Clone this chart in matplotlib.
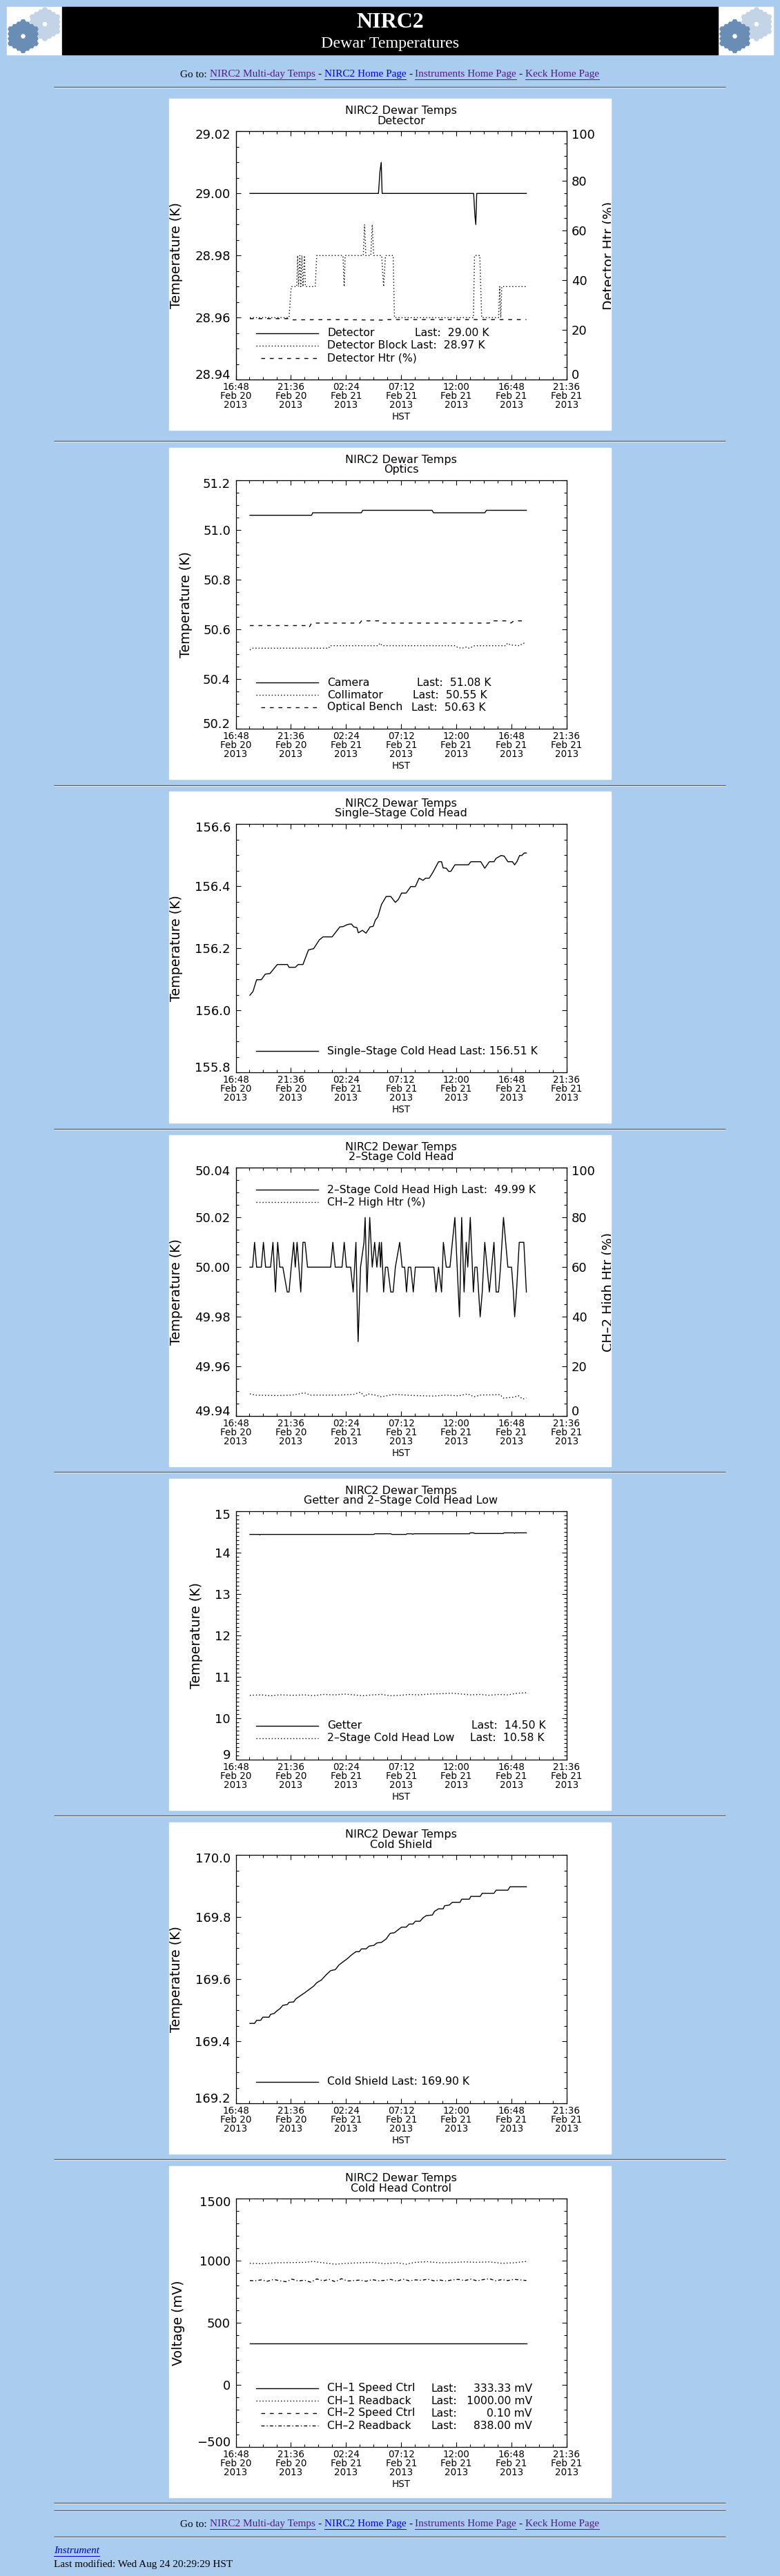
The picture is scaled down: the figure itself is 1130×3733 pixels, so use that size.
import numpy as np
import matplotlib
matplotlib.use("Agg")
import matplotlib.pyplot as plt
from matplotlib.patches import Rectangle, RegularPolygon
from matplotlib.ticker import MultipleLocator
from matplotlib.transforms import Bbox, TransformedBbox

W, H, DPI = 1130, 3733, 100
PT = 72.0 / DPI          # points per screen pixel

BG = "#AACCEE"
VISITED = "#551A8B"
LINK = "#0000EE"
SERIF = "Liberation Serif"
plt.rcParams["font.family"] = "DejaVu Sans"

# time axis: hours after 16:48 HST, Feb 20 2013
time_ticks = [0, 4.8, 9.6, 14.4, 19.2, 24.0, 28.8]
time_labels = ["16:48\nFeb 20\n2013", "21:36\nFeb 20\n2013", "02:24\nFeb 21\n2013",
               "07:12\nFeb 21\n2013", "12:00\nFeb 21\n2013", "16:48\nFeb 21\n2013",
               "21:36\nFeb 21\n2013"]
pct_ticks = [0, 20, 40, 60, 80, 100]

# ---- Detector ----
det_t = [1.23, 12.42, 12.55, 12.66, 12.74, 12.82, 20.70, 20.81, 20.89, 20.97, 25.29]
det_k = [29.000, 29.000, 29.007, 29.010, 29.000, 29.000, 29.000, 28.993, 28.990, 29.000, 29.000]
block_t = [1.23, 4.64, 4.83, 5.31, 5.39, 5.47, 5.58, 5.66, 5.76, 5.85, 5.98, 6.06, 6.20,
           6.92, 7.05, 9.33, 9.44, 9.52, 11.10, 11.21, 11.32, 11.75, 11.88, 12.00, 12.70,
           12.87, 13.03, 13.70, 13.81, 20.68, 20.78, 21.24, 21.40, 22.87, 22.97, 23.06,
           23.15, 23.28, 25.29]
block_k = [28.96, 28.96, 28.97, 28.97, 28.98, 28.97, 28.98, 28.97, 28.98, 28.97, 28.98,
           28.97, 28.97, 28.97, 28.98, 28.98, 28.97, 28.98, 28.98, 28.99, 28.98, 28.98,
           28.99, 28.98, 28.98, 28.97, 28.98, 28.98, 28.96, 28.96, 28.98, 28.98, 28.96,
           28.96, 28.97, 28.96, 28.97, 28.97, 28.97]
dhtr_t = [1.23, 4.60, 4.75, 9.00, 12.80, 13.00, 20.00, 25.29]
dhtr_pct = [24.6, 24.6, 24.1, 24.2, 24.0, 24.2, 24.2, 24.2]

# ---- Optics ----
camera_t = [1.23, 6.60, 6.70, 10.93, 11.05, 17.08, 17.22, 21.67, 21.82, 25.29]
camera_k = [51.06, 51.06, 51.07, 51.07, 51.08, 51.08, 51.07, 51.07, 51.08, 51.08]
coll_t = [1.23, 1.50, 8.10, 8.20, 12.40, 12.55, 12.75, 19.12, 19.30, 19.70, 20.10, 20.30,
          20.80, 23.50, 23.65, 23.90, 24.70, 25.00, 25.29]
coll_k = [50.518, 50.525, 50.525, 50.535, 50.535, 50.545, 50.535, 50.535, 50.528, 50.525,
          50.530, 50.525, 50.535, 50.535, 50.545, 50.538, 50.535, 50.545, 50.545]
bench_t = [1.23, 6.10, 6.38, 6.55, 6.65, 10.80, 10.95, 12.60, 12.75, 22.07, 22.20, 23.70,
           23.95, 24.20, 25.10]
bench_k = [50.616, 50.616, 50.608, 50.622, 50.626, 50.626, 50.635, 50.635, 50.626, 50.626,
           50.635, 50.635, 50.626, 50.635, 50.635]

# ---- Single-stage cold head ----
ss_t = [1.23, 1.50, 1.82, 2.23, 2.57, 2.98, 3.62, 4.50, 4.64, 5.18, 5.44, 5.85, 6.33, 6.78,
        7.27, 7.59, 8.39, 9.06, 9.33, 9.68, 9.87, 10.08, 10.27, 10.54, 10.67, 11.02, 11.34,
        11.69, 11.96, 12.15, 12.36, 12.68, 13.09, 13.49, 13.89, 14.16, 14.43, 14.83, 15.23,
        15.63, 15.96, 16.30, 16.52, 16.84, 17.19, 17.65, 17.91, 18.05, 18.32, 18.53, 18.72,
        19.07, 20.25, 20.46, 21.32, 21.67, 22.07, 22.47, 22.66, 23.09, 23.36, 23.68, 24.08,
        24.27, 24.48, 24.70, 24.89, 25.10, 25.29]
ss_k = [156.049, 156.061, 156.099, 156.099, 156.117, 156.119, 156.148, 156.148, 156.139,
        156.139, 156.148, 156.148, 156.195, 156.199, 156.227, 156.237, 156.237, 156.269,
        156.270, 156.276, 156.278, 156.278, 156.269, 156.267, 156.250, 156.258, 156.249,
        156.269, 156.271, 156.291, 156.301, 156.341, 156.367, 156.367, 156.348, 156.358,
        156.378, 156.378, 156.399, 156.399, 156.426, 156.419, 156.426, 156.426, 156.447,
        156.479, 156.479, 156.459, 156.458, 156.448, 156.448, 156.469, 156.469, 156.479,
        156.479, 156.458, 156.479, 156.479, 156.490, 156.499, 156.497, 156.479, 156.479,
        156.469, 156.480, 156.499, 156.499, 156.507, 156.507]

# ---- 2-stage cold head (high) ----
hi_t = [1.23, 1.47, 1.64, 1.82, 2.23, 2.41, 2.60, 3.03, 3.24, 3.46, 3.65, 3.83, 4.10, 4.48,
        4.64, 4.83, 5.04, 5.18, 5.34, 5.66, 5.85, 6.03, 6.25, 8.26, 8.45, 8.66, 9.25, 9.44,
        9.63, 10.00, 10.22, 10.46, 10.59, 10.65, 10.86, 11.16, 11.26, 11.42, 11.66, 11.88,
        12.09, 12.28, 12.50, 12.60, 12.68, 12.87, 13.03, 13.22, 13.49, 13.70, 13.89, 14.27,
        14.48, 14.70, 14.86, 15.02, 15.23, 15.45, 15.63, 17.24, 17.43, 17.65, 17.91, 18.07,
        18.32, 18.64, 18.85, 19.07, 19.47, 19.66, 19.87, 20.06, 20.19, 20.41, 20.68, 20.81,
        21.00, 21.27, 21.45, 21.67, 22.07, 22.47, 22.66, 22.87, 23.04, 23.30, 23.68, 24.00,
        24.16, 24.27, 24.43, 24.67, 25.07, 25.29]
hi_k = [50.00, 50.00, 50.01, 50.00, 50.00, 50.01, 50.00, 50.00, 50.01, 49.99, 50.01, 50.00,
        50.00, 49.99, 49.99, 50.00, 50.01, 50.00, 50.01, 49.99, 50.01, 50.01, 50.00, 50.00,
        50.01, 50.00, 50.00, 50.01, 50.00, 50.00, 49.99, 50.01, 49.98, 49.97, 50.00, 50.01,
        50.02, 49.99, 50.02, 50.00, 50.01, 50.00, 50.01, 50.00, 50.01, 49.99, 50.00, 50.00,
        49.99, 49.99, 50.00, 50.01, 50.00, 50.00, 49.99, 50.00, 50.00, 49.99, 50.00, 50.00,
        49.99, 50.00, 49.99, 50.01, 50.00, 50.00, 50.01, 50.02, 49.98, 50.02, 49.99, 50.01,
        50.00, 50.02, 49.99, 50.00, 50.00, 49.98, 49.99, 50.01, 49.99, 50.01, 49.99, 49.99,
        50.00, 50.02, 50.00, 50.00, 49.99, 49.98, 49.99, 50.01, 50.01, 49.99]
hhtr_t = [1.23, 1.69, 3.57, 4.91, 5.98, 6.52, 8.93, 10.27, 10.86, 11.21, 11.48, 12.15,
          12.68, 13.76, 15.63, 17.24, 18.32, 19.39, 20.19, 20.73, 21.27, 23.01, 23.28,
          24.08, 24.62, 24.97, 25.29]
hhtr_pct = [9.0, 8.5, 8.3, 8.5, 9.4, 8.5, 8.5, 8.8, 9.7, 7.9, 9.0, 8.5, 7.8, 8.8, 8.3, 8.1,
            8.5, 8.2, 9.0, 7.8, 8.5, 8.7, 7.3, 7.6, 8.2, 6.9, 7.4]

# ---- Getter and 2-stage cold head low ----
getter_t = [1.23, 2.05, 2.10, 2.15, 12.01, 12.10, 13.49, 13.60, 14.83, 14.90, 15.30, 15.40,
            15.50, 20.33, 20.40, 20.70, 20.78, 23.28, 23.35, 24.20, 24.25, 24.30, 25.29]
getter_k = [14.445, 14.445, 14.435, 14.445, 14.445, 14.461, 14.461, 14.445, 14.445, 14.461,
            14.461, 14.450, 14.461, 14.461, 14.483, 14.483, 14.467, 14.467, 14.483, 14.483,
            14.472, 14.483, 14.483]
low_t = [1.23, 2.23, 3.03, 3.83, 4.91, 5.98, 6.78, 7.59, 8.66, 9.47, 10.27, 11.08, 11.88,
         12.68, 13.49, 14.29, 15.10, 15.90, 16.97, 18.05, 18.85, 19.66, 20.46, 21.27, 22.07,
         22.87, 23.68, 24.48, 25.29]
low_k = [10.56, 10.57, 10.55, 10.57, 10.56, 10.57, 10.55, 10.58, 10.57, 10.59, 10.57, 10.55,
         10.57, 10.58, 10.55, 10.56, 10.58, 10.57, 10.59, 10.60, 10.61, 10.59, 10.57, 10.58,
         10.56, 10.58, 10.57, 10.61, 10.62]

# ---- Cold shield ----
cs_t = [1.23, 1.64, 1.82, 2.17, 2.36, 2.90, 3.03, 3.35, 3.57, 3.83, 4.10, 4.50, 4.64, 5.04,
        5.23, 5.58, 5.98, 6.38, 6.78, 7.05, 7.46, 7.91, 8.26, 8.66, 8.98, 9.33, 9.73, 10.06,
        10.46, 10.75, 10.94, 11.34, 11.61, 12.01, 12.28, 12.68, 13.09, 13.44, 13.81, 14.08,
        14.43, 14.83, 15.10, 15.42, 15.63, 16.04, 16.30, 16.57, 17.11, 17.30, 17.65, 18.05,
        18.18, 18.58, 18.85, 19.52, 19.66, 20.33, 20.46, 21.27, 21.45, 22.47, 22.66, 23.68,
        23.87, 25.29]
cs_k = [169.458, 169.458, 169.468, 169.468, 169.478, 169.478, 169.487, 169.490, 169.498,
        169.505, 169.516, 169.519, 169.526, 169.527, 169.537, 169.546, 169.556, 169.567,
        169.578, 169.589, 169.598, 169.616, 169.628, 169.631, 169.646, 169.656, 169.667,
        169.678, 169.689, 169.689, 169.698, 169.698, 169.707, 169.709, 169.717, 169.719,
        169.730, 169.748, 169.750, 169.758, 169.768, 169.768, 169.778, 169.778, 169.787,
        169.787, 169.798, 169.805, 169.807, 169.819, 169.827, 169.827, 169.837, 169.839,
        169.848, 169.848, 169.858, 169.858, 169.867, 169.867, 169.877, 169.877, 169.887,
        169.887, 169.898, 169.898]

# ---- Cold head control ----
ch1spd_t = [1.23, 25.29]
ch1spd_mv = [333.33, 333.33]
ch1rb_t = [1.23, 2.23, 3.57, 4.91, 5.98, 6.78, 7.59, 8.66, 9.73, 10.81, 11.88, 12.95, 14.02,
           14.83, 15.63, 16.71, 17.78, 18.85, 19.92, 21.00, 22.07, 23.14, 24.22, 25.29]
ch1rb_mv = [980.5, 976.8, 984.2, 986.1, 988.0, 995.4, 984.2, 973.1, 980.5, 984.2, 988.0,
            976.8, 984.2, 973.1, 988.0, 993.5, 984.2, 986.1, 991.7, 988.0, 991.7, 980.5,
            984.2, 995.4]
ch2rb_t = [1.23, 1.69, 2.23, 2.76, 3.30, 3.83, 4.37, 4.91, 5.44, 5.98, 6.52, 7.05, 7.59,
           8.13, 8.66, 9.20, 9.73, 10.27, 10.81, 11.34, 11.88, 12.42, 12.95, 13.49, 14.02,
           14.56, 15.10, 15.63, 16.17, 16.71, 17.24, 17.78, 18.32, 18.85, 19.39, 19.92,
           20.46, 21.00, 21.53, 22.07, 22.61, 23.14, 23.68, 24.22, 24.75, 25.29]
ch2rb_mv = [841.4, 839.5, 846.9, 835.8, 850.6, 839.5, 832.1, 852.5, 837.7, 845.1, 828.4,
            854.4, 839.5, 850.6, 832.1, 856.2, 837.7, 841.4, 845.1, 835.8, 848.8, 839.5,
            843.2, 850.6, 835.8, 852.5, 839.5, 846.9, 843.2, 852.5, 839.5, 845.1, 837.7,
            846.9, 850.6, 841.4, 852.5, 839.5, 848.8, 856.2, 839.5, 848.8, 841.4, 850.6,
            846.9, 841.4]

LW = 1.0
DOT = (0, (1, 2.2))
DASH = (0, (4, 5))
DASHDOT = (0, (3.5, 2.2, 1, 2.2))

TITLE = 16 * PT
LEG = 15.6 * PT
YTICK = 18 * PT
XTICK = 13.5 * PT
YLAB = 19 * PT
HTML = 15.3 * PT

fig = plt.figure(figsize=(W / DPI, H / DPI), dpi=DPI, facecolor=BG)
page = fig.add_axes([0, 0, 1, 1])
page.set_xlim(0, W)
page.set_ylim(H, 0)
page.axis("off")
renderer = fig.canvas.get_renderer()


def width_of(s, **kw):
    t = page.text(0, 0, s, **kw)
    w = t.get_window_extent(renderer).width
    t.remove()
    return w


def hr(y):
    page.plot([78, 1051], [y, y], color="#5f5f5f", lw=1.4 * PT, solid_capstyle="butt")
    page.plot([78, 1051], [y + 1.3, y + 1.3], color="#e6e6e6", lw=1.0 * PT, solid_capstyle="butt")


def keck_logo(x0):
    page.add_patch(Rectangle((x0, 10), 79, 69, color="white", zorder=1))
    box = Rectangle((x0, 10), 79, 69, transform=page.transData)
    s = 4.0
    for cx, cy, col in [(x0 + 55, 35, "#c4d4e7"), (x0 + 23.5, 52.5, "#6a8db6")]:
        for q in range(-3, 4):
            for r in range(-3, 4):
                ring = max(abs(q), abs(r), abs(q + r))
                if ring == 0 or ring > 3:
                    continue
                hx = cx + 1.5 * s * q
                hy = cy + np.sqrt(3) * s * (r + q / 2)
                hp = RegularPolygon((hx, hy), 6, radius=s * 0.9, orientation=np.pi / 6,
                                    color=col, zorder=2)
                page.add_patch(hp)
                hp.set_clip_path(box)


goto_parts = [("Go to:", "black", False), ("NIRC2 Multi-day Temps", VISITED, True),
              ("-", "black", False), ("NIRC2 Home Page", LINK, True),
              ("-", "black", False), ("Instruments Home Page", VISITED, True),
              ("-", "black", False), ("Keck Home Page", VISITED, True)]


def goto(y):
    kw = dict(fontsize=HTML, family=SERIF)
    space = width_of("a a", **kw) - width_of("aa", **kw)
    widths = [width_of(s, **kw) for s, _, _ in goto_parts]
    total = sum(widths) + space * (len(widths) - 1)
    x = 564.5 - total / 2
    for (s, col, ul), w in zip(goto_parts, widths):
        page.text(x, y, s, color=col, ha="left", va="center", **kw)
        if ul:
            page.plot([x, x + w], [y + 7, y + 7], color=col, lw=1.0 * PT)
        x += w + space


# header
keck_logo(10)
keck_logo(1041)
page.add_patch(Rectangle((90, 10), 950, 69, color="black", zorder=1))
page.text(565, 32, "NIRC2", color="white", fontsize=32 * PT, fontweight="bold",
          family=SERIF, ha="center", va="center")
page.text(565, 63, "Dewar Temperatures", color="white", fontsize=24 * PT,
          family=SERIF, ha="center", va="center")
goto(108)
for y in [126, 639, 1137.5, 1635.5, 2133, 2631, 3129, 3627, 3638, 3676]:
    hr(y)
goto(3658)
page.text(78, 3697, "Instrument", color=LINK, style="italic", fontsize=HTML,
          family=SERIF, ha="left", va="center")
page.plot([78, 78 + width_of("Instrument", style="italic", fontsize=HTML, family=SERIF)],
          [3704, 3704], color=LINK, lw=1.0 * PT)
page.text(78, 3716, "Last modified: Wed Aug 24 20:29:29 HST", color="black",
          fontsize=HTML, family=SERIF, ha="left", va="center")


def tick_labels(ax, ticks, fmt, side):
    n = len(ticks)
    for i, v in enumerate(ticks):
        dy = 6 if i == 0 else (-6 if i == n - 1 else -1.4)
        if side == "left":
            ax.annotate(fmt(v), xy=(0, v), xycoords=("axes fraction", "data"),
                        xytext=(-7.5, dy), textcoords="offset pixels", ha="right",
                        va="center", fontsize=YTICK, annotation_clip=False)
        else:
            ax.annotate(fmt(v), xy=(1, v), xycoords=("axes fraction", "data"),
                        xytext=(7, dy), textcoords="offset pixels", ha="left",
                        va="center", fontsize=YTICK, annotation_clip=False)


def style_ticks(a):
    a.tick_params(which="both", direction="in", width=0.8)
    a.tick_params(which="major", length=7 * PT)
    a.tick_params(which="minor", length=4 * PT)


def panel(top, title, ylim, ymajor, yminor, fmt, ylabel, ylabel_x, right=None):
    page.add_patch(Rectangle((245, top), 640, 480, color="white", zorder=1))
    page.text(581, top + 17.7, "NIRC2 Dewar Temps", ha="center", va="center", fontsize=TITLE)
    page.text(581, top + 32, title, ha="center", va="center", fontsize=TITLE)
    ax = fig.add_axes([341.5 / W, 1 - (top + 407.3) / H, 479.5 / W, 360 / H])
    ax.set_facecolor("white")
    tw = None
    if right is not None:
        tw = ax.twinx()
    ax.set_xlim(0, 28.8)
    ax.set_xticks(time_ticks)
    ax.set_xticklabels(time_labels, fontsize=XTICK, linespacing=0.9)
    ax.xaxis.set_minor_locator(MultipleLocator(1.2))
    ax.set_ylim(*ylim)
    yt = list(np.arange(ylim[0], ylim[1] + ymajor / 2, ymajor))
    ax.set_yticks(yt)
    ax.yaxis.set_minor_locator(MultipleLocator(yminor))
    style_ticks(ax)
    ax.tick_params(which="both", top=True, right=(tw is None), labelleft=False)
    ax.tick_params(axis="x", pad=3.5 * PT)
    for sp in ax.spines.values():
        sp.set_linewidth(0.9)
    tick_labels(ax, yt, fmt, "left")
    ax.set_xlabel("HST", fontsize=XTICK, va="center")
    ax.xaxis.set_label_coords(0.5, -(461 - 407.3) / 360)
    ax.set_ylabel(ylabel, fontsize=YLAB, va="center", ha="center")
    ax.yaxis.set_label_coords((ylabel_x - 341.5) / 479.5, 0.5)
    if tw is not None:
        tw.set_ylim(0, 100)
        tw.set_yticks(pct_ticks)
        tw.yaxis.set_minor_locator(MultipleLocator(5))
        style_ticks(tw)
        tw.tick_params(which="both", labelright=False)
        tick_labels(tw, pct_ticks, lambda v: "%d" % v, "right")
        lab = page.text(881.5, top + 227.3, right, rotation=90, ha="center", va="center",
                        fontsize=YLAB, clip_on=True)
        lab.set_clip_box(TransformedBbox(Bbox([[245 / W, 1 - (top + 480) / H],
                                               [885 / W, 1 - top / H]]), fig.transFigure))
    return ax, tw


def legend(ax, rows):
    for y_img, ls, pieces in rows:
        yf = (407.3 - y_img) / 360
        x_start = 0.0615 if ls in ("-", DOT) else 0.076
        ax.plot([x_start, 0.249], [yf, yf], transform=ax.transAxes, color="k", lw=LW,
                ls=ls, clip_on=False)
        for x_img, s, ha in pieces:
            ax.text((x_img - 96.5) / 479.5, yf, s, transform=ax.transAxes, ha=ha,
                    va="center", fontsize=LEG)


f2 = lambda v: "%.2f" % v
f1 = lambda v: "%.1f" % v
f0 = lambda v: ("%d" % round(v)).replace("-", "\u2212")

# 1 Detector
ax, tw = panel(143, "Detector", (28.94, 29.02), 0.02, 0.005, f2, "Temperature (K)", 255.8,
               right="Detector Htr (%)")
ax.plot(det_t, det_k, color="k", lw=LW)
ax.plot(block_t, block_k, color="k", lw=LW, ls=DOT)
tw.plot(dhtr_t, dhtr_pct, color="k", lw=LW, ls=DASH)
legend(ax, [(339.7, "-", [(229, "Detector", "left"), (356, "Last:  29.00 K", "left")]),
            (357.7, DOT, [(229, "Detector Block", "left"), (349.6, "Last:  28.97 K", "left")]),
            (375.7, DASH, [(229, "Detector Htr (%)", "left")])])

# 2 Optics
ax, _ = panel(649, "Optics", (50.2, 51.2), 0.2, 0.05, f1, "Temperature (K)", 269.2)
ax.plot(camera_t, camera_k, color="k", lw=LW)
ax.plot(coll_t, coll_k, color="k", lw=LW, ls=DOT)
ax.plot(bench_t, bench_k, color="k", lw=LW, ls=DASH)
legend(ax, [(340, "-", [(229, "Camera", "left"), (359, "Last:  51.08 K", "left")]),
            (358, DOT, [(229, "Collimator", "left"), (353.2, "Last:  50.55 K", "left")]),
            (376, DASH, [(229, "Optical Bench", "left"), (350.5, "Last:  50.63 K", "left")])])

# 3 Single-stage cold head
ax, _ = panel(1147, "Single\u2013Stage Cold Head", (155.8, 156.6), 0.2, 0.05, f1,
              "Temperature (K)", 255.8)
ax.plot(ss_t, ss_k, color="k", lw=LW)
legend(ax, [(376.3, "-", [(229, "Single\u2013Stage Cold Head Last: 156.51 K", "left")])])

# 4 2-stage cold head
ax, tw = panel(1645, "2\u2013Stage Cold Head", (49.94, 50.04), 0.02, 0.005, f2,
               "Temperature (K)", 255.8, right="CH\u20132 High Htr (%)")
ax.plot(hi_t, hi_k, color="k", lw=LW)
tw.plot(hhtr_t, hhtr_pct, color="k", lw=LW, ls=DOT)
legend(ax, [(79.3, "-", [(229, "2\u2013Stage Cold Head High Last:  49.99 K", "left")]),
            (97.3, DOT, [(229, "CH\u20132 High Htr (%)", "left")])])

# 5 Getter and 2-stage cold head low
ax, _ = panel(2143, "Getter and 2\u2013Stage Cold Head Low", (9, 15), 1, 0.1, f0,
              "Temperature (K)", 284.8)
ax.plot(getter_t, getter_k, color="k", lw=LW)
ax.plot(low_t, low_k, color="k", lw=LW, ls=DOT)
legend(ax, [(357.7, "-", [(229, "Getter", "left"), (438, "Last:  14.50 K", "left")]),
            (375.7, DOT, [(229, "2\u2013Stage Cold Head Low", "left"),
                          (436.2, "Last:  10.58 K", "left")])])

# 6 Cold shield
ax, _ = panel(2641, "Cold Shield", (169.2, 170.0), 0.2, 0.05, f1, "Temperature (K)", 255.8)
ax.plot(cs_t, cs_k, color="k", lw=LW)
legend(ax, [(375.7, "-", [(229, "Cold Shield Last: 169.90 K", "left")])])

# 7 Cold head control
ax, _ = panel(3139, "Cold Head Control", (-500, 1500), 500, 100, f0, "Voltage (mV)", 258)
ax.plot(ch1spd_t, ch1spd_mv, color="k", lw=LW)
ax.plot(ch1rb_t, ch1rb_mv, color="k", lw=LW, ls=DOT)
ax.plot(ch2rb_t, ch2rb_mv, color="k", lw=LW, ls=DASHDOT)
legend(ax, [(322, "-", [(229, "CH\u20131 Speed Ctrl", "left"), (380, "Last:", "left"),
                        (526, "333.33 mV", "right")]),
            (340, DOT, [(229, "CH\u20131 Readback", "left"), (380, "Last:", "left"),
                        (526, "1000.00 mV", "right")]),
            (358, DASH, [(229, "CH\u20132 Speed Ctrl", "left"), (380, "Last:", "left"),
                         (526, "0.10 mV", "right")]),
            (376, DASHDOT, [(229, "CH\u20132 Readback", "left"), (380, "Last:", "left"),
                            (526, "838.00 mV", "right")])])

fig.savefig("out.png", dpi=DPI, facecolor=BG)
